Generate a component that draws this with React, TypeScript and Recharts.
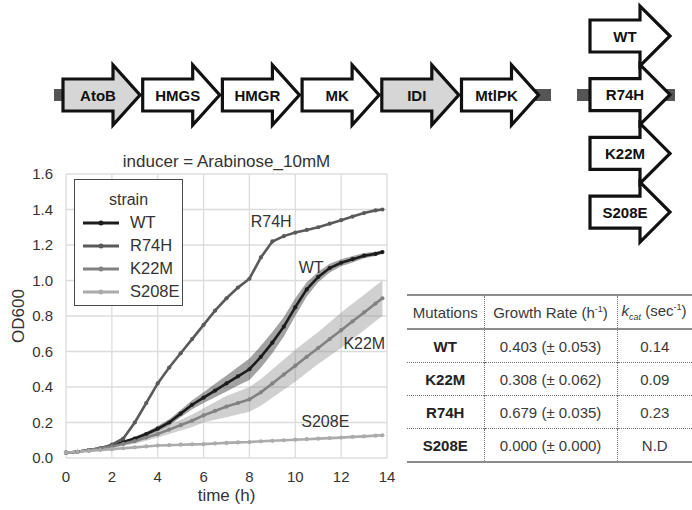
import React from 'react';
import {
  ComposedChart,
  Line,
  Area,
  XAxis,
  YAxis,
  CartesianGrid,
  Legend,
  ReferenceDot,
} from 'recharts';

const FONT = '"Liberation Sans", Arial, Helvetica, sans-serif';

// growth curves, OD600 vs time (h)
const times = [
  0, 0.5, 1, 1.5, 2, 2.5, 3, 3.5, 4, 4.5, 5, 5.5, 6, 6.5, 7, 7.5, 8, 8.5, 9, 9.5,
  10, 10.5, 11, 11.5, 12, 12.5, 13, 13.5, 13.8,
];
const wt = [
  0.03, 0.035, 0.045, 0.055, 0.07, 0.09, 0.11, 0.135, 0.165, 0.2, 0.25, 0.3, 0.34,
  0.38, 0.42, 0.46, 0.5, 0.57, 0.65, 0.74, 0.85, 0.95, 1.02, 1.07, 1.1, 1.12, 1.14,
  1.15, 1.16,
];
const r74h = [
  0.03, 0.035, 0.045, 0.055, 0.075, 0.11, 0.2, 0.31, 0.42, 0.51, 0.59, 0.67, 0.75,
  0.83, 0.9, 0.96, 1.01, 1.13, 1.22, 1.25, 1.27, 1.285, 1.3, 1.32, 1.34, 1.36, 1.38,
  1.395, 1.4,
];
const k22m = [
  0.03, 0.035, 0.045, 0.055, 0.065, 0.08, 0.095, 0.115, 0.135, 0.16, 0.185, 0.21,
  0.24, 0.265, 0.29, 0.31, 0.33, 0.37, 0.42, 0.47, 0.52, 0.57, 0.62, 0.67, 0.72,
  0.77, 0.82, 0.87, 0.9,
];
const s208e = [
  0.03, 0.035, 0.04, 0.045, 0.05, 0.055, 0.06, 0.065, 0.07, 0.072, 0.075, 0.077,
  0.078, 0.082, 0.085, 0.088, 0.09, 0.094, 0.097, 0.1, 0.103, 0.106, 0.109, 0.112,
  0.115, 0.119, 0.122, 0.126, 0.128,
];
// half-width of the confidence bands
const wtSpread = [
  0, 0, 0.003, 0.004, 0.005, 0.007, 0.01, 0.012, 0.015, 0.018, 0.02, 0.025, 0.03,
  0.038, 0.045, 0.052, 0.06, 0.062, 0.06, 0.055, 0.05, 0.04, 0.03, 0.025, 0.02,
  0.018, 0.015, 0.012, 0.01,
];
const k22mSpread = [
  0, 0, 0.005, 0.007, 0.01, 0.012, 0.015, 0.018, 0.02, 0.025, 0.03, 0.035, 0.04,
  0.05, 0.06, 0.065, 0.07, 0.075, 0.08, 0.085, 0.09, 0.09, 0.09, 0.095, 0.1, 0.1,
  0.1, 0.1, 0.1,
];

const xTicks = [0, 2, 4, 6, 8, 10, 12, 14];
const yTicks = [0, 0.2, 0.4, 0.6, 0.8, 1.0, 1.2, 1.4, 1.6];

const strains = [
  { key: 'WT', color: '#1c1c1c' },
  { key: 'R74H', color: '#5a5a5a' },
  { key: 'K22M', color: '#828282' },
  { key: 'S208E', color: '#ababab' },
];

// in-plot curve names, data coordinates
const curveLabels = [
  { text: 'R74H', x: 8.95, y: 1.336 },
  { text: 'WT', x: 10.69, y: 1.075 },
  { text: 'K22M', x: 13.01, y: 0.647 },
  { text: 'S208E', x: 11.31, y: 0.204 },
];

// operon genes
const genes = ['AtoB', 'HMGS', 'HMGR', 'MK', 'IDI', 'MtlPK'];
const shadedGenes = ['AtoB', 'IDI'];
const variants = ['WT', 'R74H', 'K22M', 'S208E'];

// table
const mutations = ['WT', 'K22M', 'R74H', 'S208E'];
const growthRate = [0.403, 0.308, 0.679, 0.0];
const growthErr = [0.053, 0.062, 0.035, 0.0];
const kcat = ['0.14', '0.09', '0.23', 'N.D'];

const rows = times.map((t, i) => ({
  time: t,
  WT: wt[i],
  R74H: r74h[i],
  K22M: k22m[i],
  S208E: s208e[i],
  wtBand: [wt[i] - wtSpread[i], wt[i] + wtSpread[i]],
  k22mBand: [k22m[i] - k22mSpread[i], k22m[i] + k22mSpread[i]],
}));

const TICK = { fontFamily: FONT, fontSize: 15, fill: '#333' } as const;

const StrainLegend = () => (
  <div
    style={{
      width: 109,
      height: 127,
      boxSizing: 'border-box',
      border: '1.5px solid #4a4a4a',
      background: '#fff',
      fontFamily: FONT,
      color: '#333',
      paddingTop: 8,
    }}
  >
    <div style={{ textAlign: 'center', fontSize: 16, height: 23, lineHeight: '23px' }}>strain</div>
    {strains.map((s) => (
      <div key={s.key} style={{ display: 'flex', alignItems: 'center', height: 23, fontSize: 16.5 }}>
        <svg width={47} height={10} style={{ marginLeft: 8 }}>
          <line x1={0} y1={5} x2={36} y2={5} stroke={s.color} strokeWidth={2.8} />
          <circle cx={18} cy={5} r={2.5} fill={s.color} />
        </svg>
        <span>{s.key}</span>
      </div>
    ))}
  </div>
);

const arrowPoints = (left: number, cy: number, body: number, head: number) =>
  [
    [left, cy - 16],
    [left + body, cy - 16],
    [left + body, cy - 30],
    [left + body + head, cy],
    [left + body, cy + 30],
    [left + body, cy + 16],
    [left, cy + 16],
  ]
    .map((p) => p.join(','))
    .join(' ');

const GeneArrow = ({ left, cy, label, fill, head }: { left: number; cy: number; label: string; fill: string; head: number }) => (
  <g>
    <polygon
      points={arrowPoints(left, cy, 50, head)}
      fill={fill}
      stroke="#111"
      strokeWidth={3.2}
      strokeLinejoin="miter"
    />
    <text
      x={left + 35}
      y={cy + 5.5}
      textAnchor="middle"
      fontFamily={FONT}
      fontWeight="bold"
      fontSize={15}
      fill="#111"
    >
      {label}
    </text>
  </g>
);

const Constructs = () => (
  <svg width={692} height={250} style={{ position: 'absolute', left: 0, top: 0 }}>
    <rect x={54} y={89} width={12} height={12} fill="#555" />
    <rect x={534} y={89} width={17} height={12} fill="#555" />
    {genes.map((g, i) => (
      <GeneArrow
        key={g}
        left={63 + i * 79.7}
        cy={95}
        label={g}
        head={27}
        fill={shadedGenes.includes(g) ? '#d6d6d6' : '#fff'}
      />
    ))}
    <rect x={577} y={89} width={16} height={12} fill="#555" />
    <rect x={655} y={89} width={20} height={12} fill="#555" />
    {variants.map((v, i) => (
      <GeneArrow key={v} left={590} cy={36 + i * 58.7} label={v} head={30} fill="#fff" />
    ))}
  </svg>
);

const cell: React.CSSProperties = {
  padding: 0,
  height: 32,
  textAlign: 'center',
  verticalAlign: 'middle',
  whiteSpace: 'nowrap',
};

const KineticsTable = () => (
  <table
    style={{
      position: 'absolute',
      left: 407,
      top: 294,
      width: 285,
      borderCollapse: 'collapse',
      fontFamily: FONT,
      fontSize: 15,
      color: '#3a3a3a',
      tableLayout: 'fixed',
    }}
  >
    <colgroup>
      <col style={{ width: 77 }} />
      <col style={{ width: 133 }} />
      <col style={{ width: 75 }} />
    </colgroup>
    <thead>
      <tr style={{ borderTop: '2px solid #8c8c8c', borderBottom: '2px solid #8c8c8c' }}>
        <th style={{ ...cell, fontWeight: 'normal', borderRight: '1px dotted #777' }}>Mutations</th>
        <th style={{ ...cell, fontWeight: 'normal', borderRight: '1px dotted #777' }}>
          Growth Rate (h<sup style={{ fontSize: 9 }}>-1</sup>)
        </th>
        <th style={{ ...cell, fontWeight: 'normal', textAlign: 'left', paddingLeft: 4 }}>
          <i>k</i>
          <sub style={{ fontSize: 9, fontStyle: 'italic' }}>cat</sub> (sec<sup style={{ fontSize: 9 }}>-1</sup>)
        </th>
      </tr>
    </thead>
    <tbody>
      {mutations.map((m, i) => (
        <tr
          key={m}
          style={{
            borderBottom: i === mutations.length - 1 ? '2px solid #8c8c8c' : '1px dotted #777',
          }}
        >
          <td style={{ ...cell, fontWeight: 'bold', color: '#222', borderRight: '1px dotted #777' }}>{m}</td>
          <td style={{ ...cell, borderRight: '1px dotted #777' }}>
            {growthRate[i].toFixed(3)} (± {growthErr[i].toFixed(3)})
          </td>
          <td style={cell}>{kcat[i]}</td>
        </tr>
      ))}
    </tbody>
  </table>
);

const GrowthChart = () => (
  <div style={{ position: 'absolute', left: 0, top: 0 }}>
    <ComposedChart
      width={400}
      height={510}
      data={rows}
      margin={{ top: 174, right: 13, bottom: 8, left: 16 }}
    >
      <CartesianGrid stroke="#dcdcdc" strokeWidth={1.3} />
      <XAxis
        dataKey="time"
        type="number"
        domain={[0, 14]}
        ticks={xTicks}
        tick={TICK}
        tickLine={false}
        axisLine={false}
        tickMargin={7}
        height={44}
        label={{
          value: 'time (h)',
          position: 'insideBottom',
          offset: 1,
          style: { fontFamily: FONT, fontSize: 17, fill: '#333' },
        }}
      />
      <YAxis
        type="number"
        domain={[0, 1.6]}
        ticks={yTicks}
        tick={TICK}
        tickFormatter={(v: number) => v.toFixed(1)}
        tickLine={false}
        axisLine={false}
        tickMargin={7}
        width={50}
        label={{
          value: 'OD600',
          angle: -90,
          position: 'insideLeft',
          offset: 2,
          style: { textAnchor: 'middle', fontFamily: FONT, fontSize: 17, fill: '#333' },
        }}
      />
      <Area
        dataKey="wtBand"
        type="linear"
        stroke="none"
        fill="#333"
        fillOpacity={0.45}
        isAnimationActive={false}
      />
      <Area
        dataKey="k22mBand"
        type="linear"
        stroke="none"
        fill="#8a8a8a"
        fillOpacity={0.4}
        isAnimationActive={false}
      />
      {strains.map((s) => (
        <Line
          key={s.key}
          dataKey={s.key}
          type="linear"
          stroke={s.color}
          strokeWidth={2.6}
          dot={{ r: 2.1, fill: s.color, stroke: 'none' }}
          activeDot={false}
          isAnimationActive={false}
        />
      ))}
      {curveLabels.map((c) => (
        <ReferenceDot
          key={c.text}
          x={c.x}
          y={c.y}
          r={0}
          fill="none"
          stroke="none"
          label={{
            value: c.text,
            position: 'center',
            style: { fontFamily: FONT, fontSize: 16, fill: '#333' },
          }}
        />
      ))}
      <Legend
        layout="horizontal"
        verticalAlign="middle"
        align="center"
        wrapperStyle={{ left: 74, top: 179, width: 'auto', height: 'auto' }}
        content={() => <StrainLegend />}
      />
    </ComposedChart>
  </div>
);

export default function App() {
  return (
    <div
      style={{
        position: 'absolute',
        left: 0,
        top: 0,
        width: 692,
        height: 510,
        background: '#fff',
        overflow: 'hidden',
      }}
    >
      <Constructs />
      <GrowthChart />
      <div
        style={{
          position: 'absolute',
          left: 66,
          top: 152,
          width: 321,
          textAlign: 'center',
          fontFamily: FONT,
          fontSize: 17,
          lineHeight: '20px',
          color: '#333',
        }}
      >
        inducer = Arabinose_10mM
      </div>
      <KineticsTable />
    </div>
  );
}
